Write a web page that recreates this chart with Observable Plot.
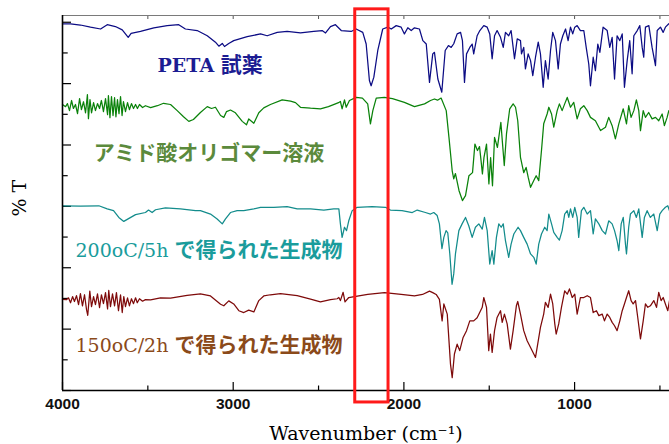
<!DOCTYPE html>
<html><head><meta charset="utf-8">
<script src="https://cdn.jsdelivr.net/npm/d3@7"></script>
<script src="https://cdn.jsdelivr.net/npm/@observablehq/plot@0.6"></script>
<style>html,body{margin:0;padding:0;background:#fff}#chart svg{display:block}</style>
</head><body><div id="chart"></div>
<script>
// [wavenumber (cm-1), %T (offset stack units)]
const peta = [[4000,119.5],[3953,119.5],[3895,119.1],[3836,118.4],[3777,117.8],[3738,119.2],[3690,118.6],[3650,117.5],[3615,115.1],[3598,116.4],[3543,117.0],[3465,118.2],[3387,118.9],[3319,119.2],[3280,117.8],[3211,117.3],[3152,115.6],[3104,113.5],[3084,112.2],[3064,113.1],[3051,112.1],[3026,113.1],[2997,114.0],[2918,115.3],[2840,116.2],[2801,115.6],[2742,116.7],[2684,117.0],[2606,116.5],[2528,117.0],[2479,117.3],[2459,116.5],[2430,118.6],[2401,119.2],[2367,117.3],[2309,117.0],[2280,117.8],[2241,116.7],[2221,112.9],[2202,101.0],[2192,99.3],[2176,102.1],[2153,110.8],[2124,117.8],[2094,118.4],[2074,117.8],[2045,118.9],[2016,118.4],[1997,116.2],[1977,118.2],[1957,117.3],[1938,118.2],[1909,117.8],[1889,114.0],[1869,112.9],[1850,100.4],[1831,109.7],[1821,110.2],[1801,101.5],[1778,97.2],[1758,110.8],[1739,112.4],[1723,111.8],[1708,113.0],[1688,116.2],[1668,116.7],[1657,114.0],[1645,100.4],[1633,109.7],[1614,111.8],[1600,112.9],[1591,109.7],[1571,115.6],[1555,117.3],[1532,118.9],[1512,118.4],[1497,116.2],[1483,108.1],[1469,115.6],[1454,117.3],[1434,115.1],[1418,111.8],[1405,116.7],[1386,115.6],[1372,117.3],[1360,111.8],[1352,108.1],[1336,114.6],[1317,114.0],[1311,109.7],[1298,111.8],[1288,104.8],[1272,109.7],[1258,107.5],[1245,102.6],[1229,108.6],[1213,113.5],[1200,109.7],[1184,98.8],[1171,107.5],[1155,101.5],[1141,110.8],[1128,116.7],[1112,114.0],[1096,104.8],[1083,112.9],[1069,115.6],[1053,117.8],[1038,114.0],[1024,118.4],[1011,116.2],[999,118.4],[985,118.9],[966,117.3],[946,117.3],[932,111.8],[917,106.4],[907,99.3],[891,108.6],[878,104.2],[864,112.9],[852,110.2],[833,118.4],[809,117.3],[794,111.8],[780,115.1],[766,101.5],[751,115.6],[735,114.0],[721,116.2],[708,98.8],[692,107.5],[677,114.0],[663,103.2],[653,115.6],[633,117.3],[618,118.9],[604,111.8],[595,108.6],[585,118.4],[565,118.9],[546,111.8],[526,105.9],[516,117.3],[497,118.4],[481,116.7],[468,118.4],[448,119.5]];

const amicAcid = [[4000,93.2],[3982,92.5],[3971,93.5],[3959,91.2],[3947,94.5],[3936,91.9],[3924,93.2],[3912,90.2],[3900,95.1],[3889,91.5],[3877,94.1],[3865,90.5],[3854,96.4],[3848,88.6],[3839,94.8],[3830,90.5],[3818,93.8],[3807,91.2],[3795,93.5],[3783,91.9],[3772,94.5],[3760,90.9],[3748,95.1],[3736,89.9],[3731,96.1],[3722,88.9],[3713,95.8],[3704,89.6],[3695,95.4],[3687,89.2],[3678,94.8],[3669,90.2],[3660,95.8],[3651,89.6],[3643,94.1],[3631,90.9],[3619,93.8],[3608,91.5],[3596,93.5],[3584,91.9],[3572,93.2],[3561,91.9],[3549,93.2],[3531,92.2],[3514,92.8],[3484,92.2],[3444,92.8],[3408,93.6],[3367,93.2],[3328,91.2],[3291,89.2],[3260,87.7],[3233,88.3],[3192,90.6],[3152,92.5],[3127,91.9],[3104,92.3],[3074,89.6],[3055,89.0],[3039,90.9],[3016,91.4],[2987,90.5],[2947,87.7],[2922,86.6],[2909,88.5],[2879,87.1],[2850,90.5],[2821,92.1],[2782,93.2],[2713,94.7],[2664,94.3],[2635,93.8],[2606,92.3],[2547,92.0],[2489,91.8],[2442,92.5],[2401,93.4],[2383,93.8],[2372,94.2],[2362,91.8],[2348,94.7],[2338,92.3],[2319,94.5],[2280,95.5],[2243,95.3],[2212,93.4],[2196,86.9],[2182,91.2],[2162,95.3],[2114,95.5],[2067,95.1],[1997,93.9],[1938,92.5],[1879,93.4],[1844,94.5],[1821,95.0],[1803,94.6],[1782,95.3],[1752,91.2],[1736,82.5],[1717,71.6],[1708,69.0],[1698,70.7],[1677,65.1],[1657,61.9],[1639,63.5],[1619,70.0],[1598,71.0],[1584,80.3],[1569,78.2],[1557,79.5],[1548,74.9],[1540,70.6],[1531,75.9],[1516,80.3],[1502,67.3],[1492,75.9],[1481,66.7],[1469,82.5],[1452,79.2],[1432,87.4],[1422,80.3],[1412,73.3],[1399,83.6],[1380,91.8],[1360,93.4],[1346,92.3],[1333,87.9],[1317,76.0],[1298,71.0],[1284,72.7],[1272,69.5],[1258,66.2],[1239,68.4],[1225,70.0],[1210,68.4],[1194,78.2],[1181,86.9],[1161,90.1],[1151,92.3],[1135,90.1],[1122,85.8],[1102,91.2],[1089,93.4],[1073,91.2],[1058,93.4],[1043,95.5],[1024,92.3],[1005,93.9],[985,88.5],[966,91.8],[946,92.8],[926,91.2],[907,89.0],[878,87.9],[848,84.7],[819,85.8],[800,89.0],[780,86.3],[761,82.0],[741,86.9],[715,91.8],[696,86.9],[683,92.8],[669,89.0],[653,91.2],[638,94.7],[624,91.2],[614,84.7],[598,91.2],[585,89.0],[566,90.6],[546,88.5],[526,89.0],[507,87.9],[487,90.1],[474,86.3],[458,89.0],[448,91.2]];

const cured200 = [[4000,60.2],[3895,60.1],[3787,60.2],[3738,59.2],[3701,58.6],[3670,56.4],[3641,55.1],[3613,56.0],[3572,57.3],[3514,58.0],[3496,58.8],[3475,58.0],[3455,58.9],[3397,59.5],[3309,59.2],[3221,58.6],[3192,58.6],[3133,57.5],[3094,55.9],[3064,54.3],[3045,55.9],[3016,58.0],[2977,58.6],[2938,58.6],[2879,59.2],[2840,59.7],[2762,59.7],[2684,59.9],[2625,59.2],[2547,59.2],[2469,58.8],[2411,59.2],[2381,59.2],[2372,54.3],[2362,49.9],[2348,53.2],[2336,52.1],[2323,55.3],[2303,58.6],[2274,59.7],[2186,59.9],[2108,59.7],[2079,58.8],[2011,58.6],[1951,58.0],[1922,58.8],[1874,58.0],[1844,57.5],[1825,58.0],[1805,57.0],[1792,54.3],[1777,46.2],[1766,49.9],[1753,52.1],[1743,51.4],[1731,44.5],[1718,34.6],[1708,38.0],[1698,44.5],[1678,52.1],[1659,54.3],[1639,56.4],[1620,53.7],[1600,49.9],[1581,53.2],[1561,54.3],[1541,52.6],[1528,56.4],[1512,52.1],[1497,41.2],[1483,45.6],[1473,41.2],[1458,49.9],[1444,54.3],[1430,53.2],[1418,54.3],[1405,48.8],[1386,43.4],[1372,47.7],[1356,51.0],[1331,53.2],[1317,52.1],[1298,49.9],[1278,47.7],[1258,44.5],[1239,43.4],[1225,41.2],[1210,47.7],[1194,51.0],[1175,53.2],[1161,52.1],[1151,57.5],[1135,54.3],[1122,51.5],[1102,49.9],[1089,49.0],[1073,52.1],[1058,57.5],[1043,58.6],[1034,56.4],[1024,59.2],[1011,56.4],[999,59.7],[985,56.4],[976,49.9],[960,58.6],[946,59.7],[926,57.5],[907,58.6],[891,51.0],[878,55.9],[858,54.3],[838,52.1],[819,51.0],[800,55.3],[780,54.3],[766,52.1],[751,48.8],[741,45.6],[727,54.3],[715,56.4],[702,47.7],[696,44.5],[683,53.2],[673,57.5],[653,58.6],[638,56.4],[624,59.2],[604,49.9],[591,56.4],[575,58.6],[556,56.4],[536,57.5],[516,52.1],[501,57.5],[487,58.6],[468,59.7],[454,60.2],[444,58.6]];

const cured150 = [[4000,29.7],[3977,29.6],[3965,30.2],[3953,28.6],[3941,30.6],[3930,29.0],[3918,30.9],[3906,28.0],[3895,31.6],[3883,27.6],[3871,31.2],[3859,26.3],[3852,24.5],[3840,32.4],[3830,27.3],[3818,30.6],[3807,28.0],[3795,31.5],[3783,27.0],[3772,31.2],[3760,28.3],[3748,31.9],[3736,26.6],[3729,32.6],[3719,27.3],[3707,31.5],[3695,27.6],[3684,31.9],[3672,26.0],[3660,31.2],[3650,25.4],[3641,30.6],[3631,27.3],[3619,30.2],[3608,27.6],[3596,29.9],[3584,28.3],[3572,30.2],[3562,28.6],[3549,29.9],[3531,29.1],[3514,29.6],[3484,29.5],[3426,30.2],[3367,30.1],[3270,31.0],[3192,31.5],[3133,30.8],[3074,28.1],[3055,27.6],[3026,29.2],[2997,28.2],[2967,26.0],[2938,25.4],[2909,26.2],[2879,25.6],[2850,29.3],[2821,30.8],[2782,31.2],[2723,31.6],[2625,30.9],[2547,29.8],[2489,28.9],[2430,29.6],[2391,29.9],[2381,30.3],[2372,29.3],[2356,32.0],[2345,28.9],[2323,30.3],[2290,30.6],[2212,31.3],[2114,31.9],[2016,31.3],[1938,30.8],[1891,31.3],[1850,32.4],[1831,31.9],[1811,31.3],[1792,29.7],[1776,22.7],[1766,28.2],[1746,24.9],[1727,8.6],[1717,4.2],[1704,11.9],[1688,15.1],[1673,13.0],[1653,17.3],[1633,19.5],[1614,22.7],[1591,22.7],[1571,23.7],[1541,27.1],[1532,30.3],[1516,27.1],[1503,13.0],[1493,18.4],[1483,12.4],[1469,19.5],[1454,23.8],[1434,26.0],[1424,22.2],[1411,24.9],[1395,21.7],[1376,13.5],[1360,19.5],[1341,27.6],[1333,29.0],[1317,24.9],[1298,19.5],[1278,16.2],[1258,14.0],[1239,11.9],[1229,10.8],[1213,16.2],[1200,20.6],[1181,24.9],[1171,28.7],[1155,27.1],[1141,31.4],[1128,28.2],[1116,21.7],[1108,18.4],[1093,21.7],[1077,27.1],[1058,32.5],[1043,31.4],[1030,33.1],[1014,30.3],[999,31.4],[985,24.9],[966,30.3],[946,30.3],[926,30.9],[907,30.3],[891,25.4],[872,26.0],[858,24.4],[838,24.9],[825,22.7],[809,24.9],[794,23.8],[780,22.2],[766,21.1],[751,19.5],[735,22.7],[721,26.0],[708,28.2],[696,30.3],[683,32.5],[669,29.3],[657,28.2],[643,29.3],[630,23.8],[614,16.8],[598,22.7],[585,28.2],[571,27.1],[556,27.6],[536,29.3],[520,27.1],[507,32.0],[493,29.3],[481,30.3],[468,28.2],[454,26.0],[444,29.3]];

const series = [
  {data: peta, color: "#0c0c84"},
  {data: amicAcid, color: "#0a820a"},
  {data: cured200, color: "#138c8c"},
  {data: cured150, color: "#7e0a0a"}
];

const labelLatin = ["PETA", "", "200oC/5h", "150oC/2h"];
const labelJa = ["試薬", "アミド酸オリゴマー溶液", "で得られた生成物", "で得られた生成物"];
const labelX = [3443, 3817, 3924, 3924];
const labelY = [106.0, 77.3, 45.7, 14.8];
const labelColor = ["#1c1c92", "#5b8a3c", "#1a9c9c", "#8b4a1a"];
const labelLatinWeight = ["bold", "normal", "normal", "normal"];
const labels = labelJa.map((ja, i) => ({latin: labelLatin[i], ja, x: labelX[i], y: labelY[i], color: labelColor[i], w: labelLatinWeight[i], full: (labelLatin[i] ? labelLatin[i] + " " : "") + ja}));

const xMajor = [4000, 3000, 2000, 1000];
const xMinor = [3500, 2500, 1500, 500];
const xAll = [3500, 3000, 2500, 2000, 1500, 1000, 500];
const yMajor = [0, 20, 40, 60, 80, 100, 120];
const yMinor = [10, 30, 50, 70, 90, 110];
const xDomain = [4000, 444];
const yDomain = [0, 122.2];
const highlight = [{x1: 2285, x2: 2090, y1: -3.9, y2: 124.2}];
const xTitle = "Wavenumber (cm⁻¹)";
const yTitle = "% T";

const blank = () => "";
const chart = Plot.plot({
  width: 669, height: 444,
  marginLeft: 62, marginRight: 0, marginTop: 15, marginBottom: 54,
  x: {domain: xDomain},
  y: {domain: yDomain},
  style: {background: "#fff", fontFamily: "Liberation Sans, Arial, sans-serif", overflow: "visible"},
  marks: [
    Plot.ruleY([yDomain[1]], {stroke: "#7a7a7a", strokeWidth: 1}),
    Plot.axisX({anchor: "top", ticks: xAll, tickSize: -3, tickFormat: blank, label: null, stroke: "#555"}),
    Plot.axisX({anchor: "bottom", ticks: xMajor, tickSize: -8, tickFormat: blank, label: null, stroke: "#000", strokeWidth: 1.2}),
    Plot.axisX({anchor: "bottom", ticks: xMinor, tickSize: -4.5, tickFormat: blank, label: null, stroke: "#000", strokeWidth: 1.2}),
    Plot.axisY({anchor: "left", ticks: yMajor, tickSize: -9, tickFormat: blank, label: null, stroke: "#000", strokeWidth: 1.2}),
    Plot.axisY({anchor: "left", ticks: yMinor, tickSize: -5.7, tickFormat: blank, label: null, stroke: "#000", strokeWidth: 1.2}),
    ...series.map(s => Plot.line(s.data, {x: d => d[0], y: d => d[1], stroke: s.color, strokeWidth: 1.25})),
    Plot.ruleY([0], {stroke: "#000", strokeWidth: 1.6}),
    Plot.ruleX([xDomain[0]], {stroke: "#000", strokeWidth: 1.6}),
    Plot.text(xMajor, {x: d => d, frameAnchor: "bottom", dy: 14, text: d => String(d), fontSize: 15.5, fontWeight: "bold", fontFamily: "Liberation Sans, Arial, sans-serif", lineAnchor: "middle", fill: "#111"}),
    Plot.text([xTitle], {frameAnchor: "bottom", dy: 43.5, text: d => d, fontSize: 19, fontFamily: "DejaVu Serif, serif", lineAnchor: "middle", fill: "#000"}),
    Plot.text([yTitle], {frameAnchor: "left", dx: -43, dy: 13.5, rotate: -90, text: d => d, fontSize: 19, fontFamily: "DejaVu Serif, serif", lineAnchor: "middle", fill: "#000"}),
    Plot.text(labels, {x: "x", y: "y", text: "full", fill: "color", textAnchor: "start", lineAnchor: "middle", fontSize: 21}),
    Plot.rect(highlight, {x1: "x1", x2: "x2", y1: "y1", y2: "y2", fill: "none", stroke: "#ff1a1a", strokeWidth: 3})
  ]
});

// split each label into a serif Latin run and a bold CJK run
const NS = "http://www.w3.org/2000/svg";
chart.querySelectorAll("text").forEach(el => {
  const lab = labels.find(l => l.full === el.textContent);
  if (!lab) return;
  el.textContent = "";
  if (lab.latin) {
    const t1 = document.createElementNS(NS, "tspan");
    t1.setAttribute("font-family", "DejaVu Serif, serif");
    t1.setAttribute("font-size", "19");
    t1.setAttribute("font-weight", lab.w);
    t1.textContent = lab.latin + " ";
    el.appendChild(t1);
  }
  const t2 = document.createElementNS(NS, "tspan");
  t2.setAttribute("font-family", "Noto Sans CJK JP, sans-serif");
  t2.setAttribute("font-weight", "bold");
  t2.setAttribute("font-size", "21");
  t2.textContent = lab.ja;
  el.appendChild(t2);
});

document.getElementById("chart").appendChild(chart);
</script>
</body></html>
